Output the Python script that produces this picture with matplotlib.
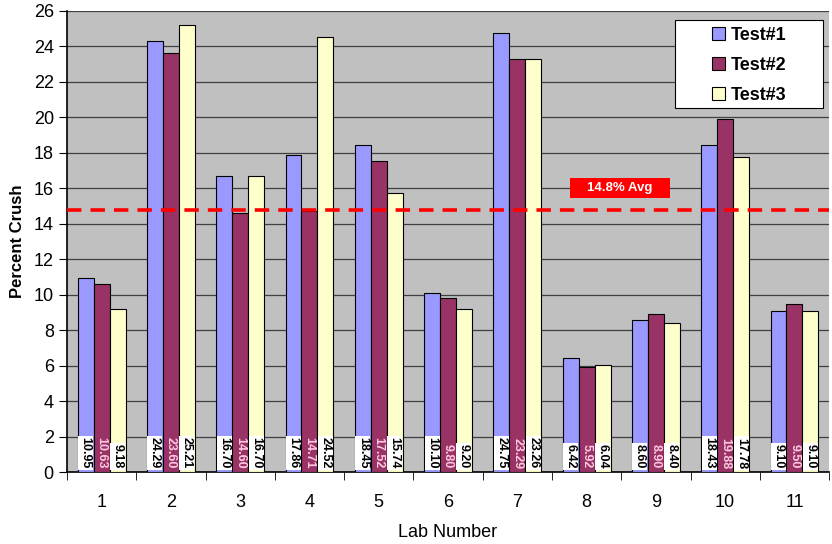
import numpy as np
import matplotlib.pyplot as plt
from matplotlib.patches import Rectangle
from matplotlib.ticker import FixedLocator, NullFormatter

plt.rcParams['font.family'] = ['Liberation Sans', 'DejaVu Sans']

# Percent crush per lab, three repeat tests
labs = ["1", "2", "3", "4", "5", "6", "7", "8", "9", "10", "11"]
test1 = [10.95, 24.29, 16.70, 17.86, 18.45, 10.10, 24.75, 6.42, 8.60, 18.43, 9.10]
test2 = [10.63, 23.60, 14.60, 14.71, 17.52, 9.80, 23.29, 5.92, 8.90, 19.88, 9.50]
test3 = [9.18, 25.21, 16.70, 24.52, 15.74, 9.20, 23.26, 6.04, 8.40, 17.78, 9.10]
series_names = ["Test#1", "Test#2", "Test#3"]
avg_crush = 14.8

colors = ['#9999FF', '#993366', '#FFFFCC']

fig = plt.figure(figsize=(8.32, 5.44), dpi=100)
ax = fig.add_axes([0.0805, 0.132, 0.916, 0.848])
ax.set_facecolor('#C0C0C0')

x = np.arange(len(labs))
width = 0.23
series = [test1, test2, test3]
handles = []
for k, (vals, name, col) in enumerate(zip(series, series_names, colors)):
    pos = x + (k - 1) * width
    h = ax.bar(pos, vals, width, color=col, edgecolor='black', linewidth=0.8,
               label=name, zorder=3)
    handles.append(h)
    for xp, v in zip(pos, vals):
        if k == 1:
            ax.text(xp, 0.2, f'{v:.2f}', rotation=-90, ha='center', va='bottom',
                    fontsize=9, fontweight='bold', color='#FFC8E0', zorder=5)
        else:
            ax.text(xp, 0.2, f'{v:.2f}', rotation=-90, ha='center', va='bottom',
                    fontsize=9, fontweight='bold', color='black', zorder=5,
                    bbox=dict(boxstyle='square,pad=0.12', fc='white', ec='none'))

# average line with its label
ax.axhline(avg_crush, color='#FF0000', linestyle=(0, (4, 2.5)), linewidth=2.6, zorder=4)
ax.add_patch(Rectangle((6.76, 15.45), 1.445, 1.13, fc='#FF0000', ec='none', zorder=6))
ax.text(7.48, 16.02, '14.8% Avg', ha='center', va='center', color='white',
        fontsize=9.5, fontweight='bold', zorder=7)

ax.set_xlim(-0.5, len(labs) - 0.5)
ax.set_ylim(0, 26)
ax.set_yticks(np.arange(0, 27, 2))
ax.yaxis.grid(True, color='#404040', linewidth=0.9, zorder=0)
ax.set_axisbelow(True)

ax.set_xticks(x)
ax.set_xticklabels(labs, fontsize=13)
ax.tick_params(axis='x', which='major', length=0, pad=16)
ax.xaxis.set_minor_locator(FixedLocator(np.arange(-0.5, len(labs), 1)))
ax.xaxis.set_minor_formatter(NullFormatter())
ax.tick_params(axis='x', which='minor', length=6, direction='out', color='black')
ax.tick_params(axis='y', labelsize=13, length=6, direction='out')

for side in ['top', 'right']:
    ax.spines[side].set_visible(False)
ax.spines['left'].set_linewidth(1.2)
ax.spines['bottom'].set_linewidth(1.2)

ax.set_xlabel('Lab Number', fontsize=13, labelpad=9)
ax.set_ylabel('Percent Crush', fontsize=12, fontweight='bold', labelpad=6)

# legend box drawn separately so it can be wider than the entries
ax.add_patch(Rectangle((0.798, 0.789), 0.194, 0.191, transform=ax.transAxes,
                       fc='white', ec='black', lw=0.8, zorder=9))
leg = ax.legend(handles=handles, loc='center', bbox_to_anchor=(0.895, 0.882),
                frameon=False, prop={'weight': 'bold', 'size': 13},
                handlelength=0.7, handleheight=0.7, handletextpad=0.3,
                labelspacing=0.72, borderpad=0.3)
leg.set_zorder(10)

fig.savefig('out.png', dpi=100)
